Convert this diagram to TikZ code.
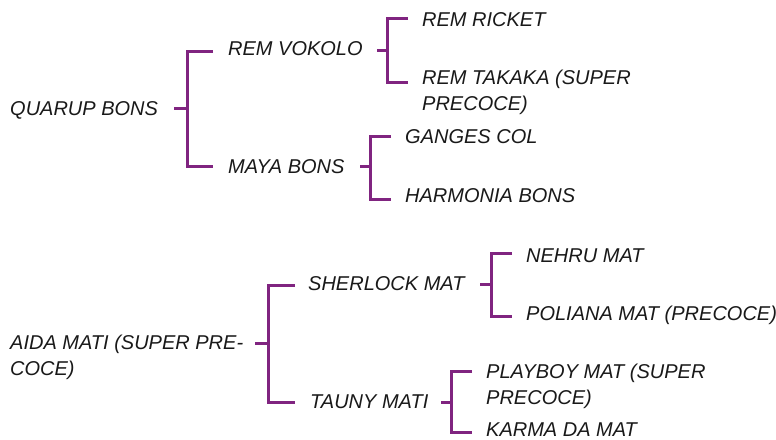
\documentclass[tikz,border=0pt]{standalone}
\usepackage{fontspec}
\setmainfont{Liberation Sans}
\definecolor{brk}{RGB}{128,36,128}
\begin{document}
\begin{tikzpicture}[x=1pt,y=-1pt,
  lbl/.style={anchor=base west,inner sep=0pt,font=\fontsize{20}{25.5}\selectfont\itshape,align=left,text=black!90},
  br/.style={draw=brk,line width=3pt,line join=miter,line cap=butt}]
\useasboundingbox (0,0) rectangle (776,439);
% nodes (multi-line nodes are placed by the baseline of their last line)
\node[lbl] (qb) at (10,115) {QUARUP BONS};
\node[lbl] (rv) at (228,55) {REM VOKOLO};
\node[lbl] (mb) at (228,173) {MAYA BONS};
\node[lbl] (rr) at (422,27) {REM RICKET};
\node[lbl] (rt) at (422,110) {REM TAKAKA (SUPER\\PRECOCE)};
\node[lbl] (gc) at (405,143) {GANGES COL};
\node[lbl] (hb) at (405,202) {HARMONIA BONS};
\node[lbl] (am) at (10,375) {AIDA MATI (SUPER PRE-\\COCE)};
\node[lbl] (sm) at (308,290) {SHERLOCK MAT};
\node[lbl] (tm) at (310,408) {TAUNY MATI};
\node[lbl] (nm) at (526,262) {NEHRU MAT};
\node[lbl] (pm) at (526,320) {POLIANA MAT (PRECOCE)};
\node[lbl] (pb) at (486,404) {PLAYBOY MAT (SUPER\\PRECOCE)};
\node[lbl] (km) at (486,436) {KARMA DA MAT};
% bracket coordinates
\coordinate (qb-o) at (174,108); \coordinate (qb-j) at (187,108);
\coordinate (rv-i) at (213,51);  \coordinate (mb-i) at (213,166);
\coordinate (rv-o) at (377,50);  \coordinate (rv-j) at (387,50);
\coordinate (rr-i) at (408,18);  \coordinate (rt-i) at (408,82);
\coordinate (mb-o) at (360,166); \coordinate (mb-j) at (370,166);
\coordinate (gc-i) at (391,136); \coordinate (hb-i) at (391,199);
\coordinate (am-o) at (255,343); \coordinate (am-j) at (268,343);
\coordinate (sm-i) at (295,285); \coordinate (tm-i) at (295,402);
\coordinate (sm-o) at (480,284); \coordinate (sm-j) at (491,284);
\coordinate (nm-i) at (512,253); \coordinate (pm-i) at (512,316);
\coordinate (tm-o) at (441,402); \coordinate (tm-j) at (451,402);
\coordinate (pb-i) at (472,371); \coordinate (km-i) at (472,432);
% brackets
\draw[br] (qb-o) -- (qb-j);
\draw[br] (rv-i) -| (qb-j) |- (mb-i);
\draw[br] (rv-o) -- (rv-j);
\draw[br] (rr-i) -| (rv-j) |- (rt-i);
\draw[br] (mb-o) -- (mb-j);
\draw[br] (gc-i) -| (mb-j) |- (hb-i);
\draw[br] (am-o) -- (am-j);
\draw[br] (sm-i) -| (am-j) |- (tm-i);
\draw[br] (sm-o) -- (sm-j);
\draw[br] (nm-i) -| (sm-j) |- (pm-i);
\draw[br] (tm-o) -- (tm-j);
\draw[br] (pb-i) -| (tm-j) |- (km-i);
\end{tikzpicture}
\end{document}
